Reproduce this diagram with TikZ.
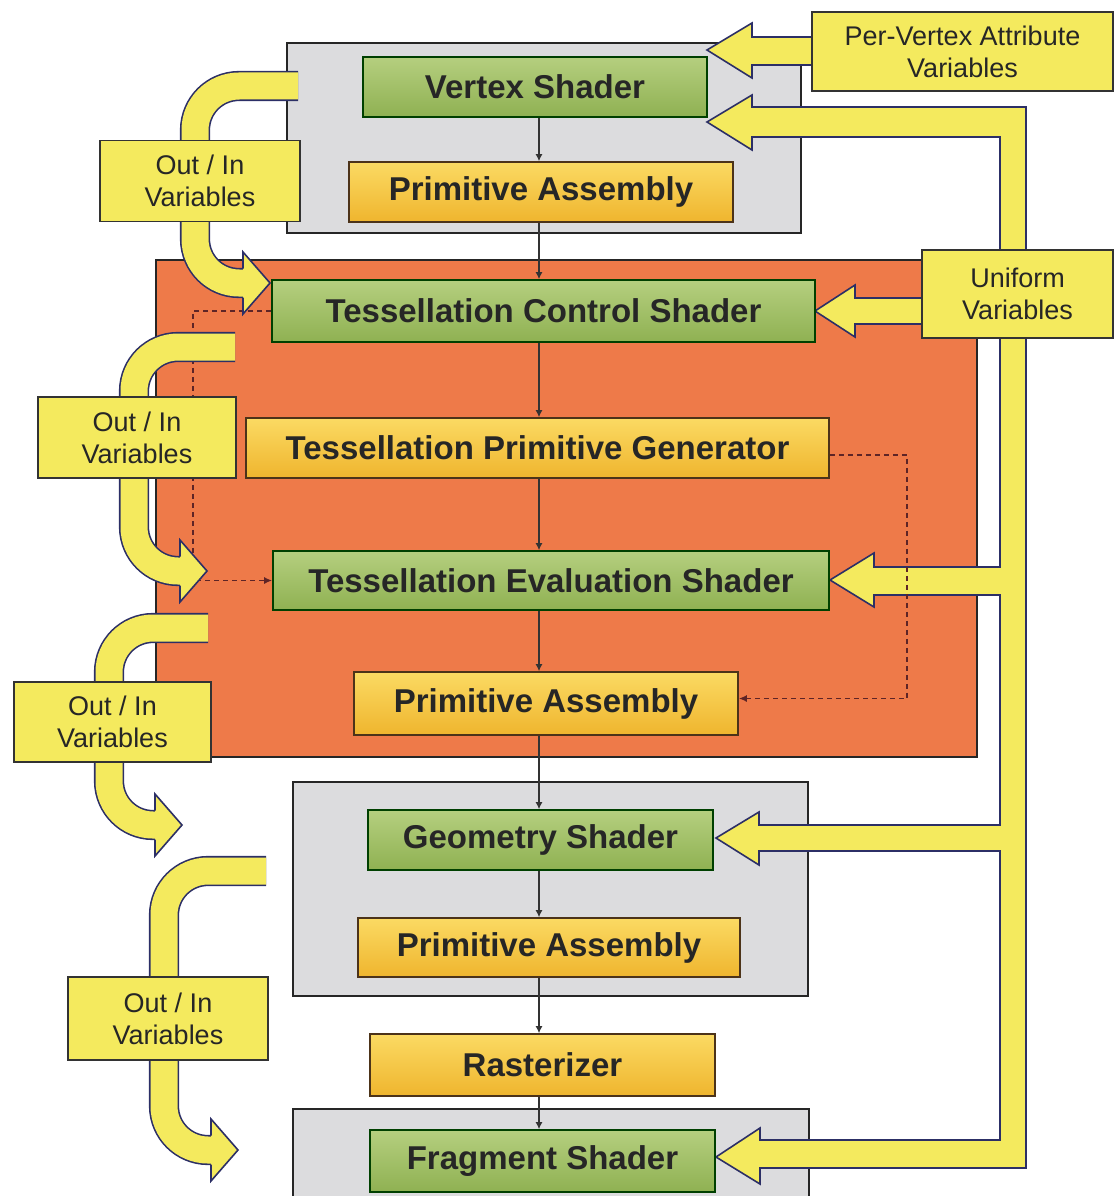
\documentclass[tikz,border=0pt]{standalone}
\usepackage{fontspec}
\setmainfont{Liberation Sans}
\usetikzlibrary{arrows.meta}

\definecolor{stagegray}{HTML}{DCDCDE}
\definecolor{tessorange}{HTML}{EE7A49}
\definecolor{greentop}{HTML}{B5CF7F}
\definecolor{greenbot}{HTML}{8FB152}
\definecolor{goldtop}{HTML}{FBDA63}
\definecolor{goldbot}{HTML}{EFB52E}
\definecolor{varyellow}{HTML}{F4EA5E}
\definecolor{arrowline}{HTML}{2C2F66}
\definecolor{ctrlred}{HTML}{5E2426}

\tikzstyle{stage}=[draw=black!85,line width=2.5pt]
\tikzstyle{shader}=[draw=green!25!black,line width=1.6pt,top color=greentop,bottom color=greenbot,
  font=\fontsize{33}{38}\selectfont\bfseries,text=black!85,inner sep=0pt]
\tikzstyle{fixed}=[draw=brown!40!black,line width=1.6pt,top color=goldtop,bottom color=goldbot,
  font=\fontsize{33}{38}\selectfont\bfseries,text=black!85,inner sep=0pt]
\tikzstyle{vars}=[draw=black!80,line width=1.6pt,fill=varyellow,align=center,
  font=\fontsize{27}{32}\selectfont,text=black!85,inner sep=0pt]
\tikzstyle{flow}=[draw=black!80,line width=1.3pt,-{Latex[length=7pt,width=7pt]}]
\tikzstyle{ctrl}=[draw=ctrlred,line width=1.7pt,dash pattern=on 5pt off 4pt,-{Latex[length=8pt,width=7pt]}]
\tikzstyle{bigarrow}=[fill=varyellow,draw=arrowline,line width=1.6pt,line join=miter]
\tikzstyle{iobus}=[draw=arrowline,line width=1.6pt,double=varyellow,double distance=27pt,rounded corners=44pt]

\begin{document}
\begin{tikzpicture}[x=1pt,y=-1pt]
	\useasboundingbox (0,0) rectangle (1116,1196);
	% stage frames
	\draw[stage,fill=stagegray] (287,43) rectangle (801,233);
	\draw[stage,fill=tessorange] (156,260) rectangle (977,757);
	\draw[stage,fill=stagegray] (293,782) rectangle (808,996);
	\draw[stage,fill=stagegray] (293,1109) rectangle (809,1215);

	% attribute and uniform feeds
	\filldraw[bigarrow] (707,50) -- (752,23) -- (752,37) -- (830,37) -- (830,65) -- (752,65) -- (752,78) -- cycle;
	\filldraw[bigarrow] (707,122) -- (752,95) -- (752,107) -- (1026,107) -- (1026,1168) -- (760,1168)
		-- (760,1184) -- (716,1157) -- (760,1128) -- (760,1140) -- (1000,1140) -- (1000,851)
		-- (759,851) -- (759,865) -- (716,838) -- (759,812) -- (759,825) -- (1000,825)
		-- (1000,595) -- (874,595) -- (874,607) -- (830,580) -- (874,553) -- (874,567)
		-- (1000,567) -- (1000,137) -- (752,137) -- (752,150) -- cycle;
	\filldraw[bigarrow] (815,311) -- (855,285) -- (855,298) -- (930,298) -- (930,324) -- (855,324) -- (855,337) -- cycle;

	\node[shader,minimum width=344pt,minimum height=60pt] (vs) at (535,87) {Vertex Shader};
	\node[fixed,minimum width=384pt,minimum height=60pt] (pa1) at (541,192) {Primitive Assembly};
	\node[shader,minimum width=543pt,minimum height=62pt] (tcs) at (543.5,311) {Tessellation Control Shader};
	\node[fixed,minimum width=583pt,minimum height=60pt] (tpg) at (537.5,448) {Tessellation Primitive Generator};
	\node[shader,minimum width=556pt,minimum height=59pt] (tes) at (551,580.5) {Tessellation Evaluation Shader};
	\node[fixed,minimum width=384pt,minimum height=63pt] (pa2) at (546,703.5) {Primitive Assembly};
	\node[shader,minimum width=345pt,minimum height=60pt] (gs) at (540.5,840) {Geometry Shader};
	\node[fixed,minimum width=382pt,minimum height=59pt] (pa3) at (549,947.5) {Primitive Assembly};
	\node[fixed,minimum width=345pt,minimum height=62pt] (ras) at (542.5,1065) {Rasterizer};
	\node[shader,minimum width=345pt,minimum height=62pt] (fs) at (542.5,1161) {Fragment Shader};

	\coordinate (spine) at (539,0);
	\coordinate (ctrlL) at (193,0);
	\coordinate (ctrlR) at (907,0);
	% pipeline order
	\foreach \source/\dest in {vs/pa1, pa1/tcs, tcs/tpg, tpg/tes, tes/pa2, pa2/gs, gs/pa3, pa3/ras, ras/fs}
		\path[flow] (\source.south -| spine) -- (\dest.north -| spine);
	\path[ctrl] (tcs.west) -- (tcs.west -| ctrlL) -- (tes.west -| ctrlL) -- (tes.west);
	\path[ctrl] ([yshift=-7pt]tpg.east) -- ([yshift=-7pt]tpg.east -| ctrlR) -- ([yshift=5pt]pa2.east -| ctrlR) -- ([yshift=5pt]pa2.east);

	% out / in hand-over between stages
	\foreach \rx/\ty/\vx/\by/\hx in {298/86/195/283/243, 235/347/134/571/180, 208/628/109/825/155, 266/871/164/1150/211}{
		\draw[iobus] (\rx,\ty) -- (\vx,\ty) -- (\vx,\by) -- (\hx,\by);
		\filldraw[bigarrow] (\hx,\by-14.5) -- (\hx,\by-31) -- (\hx+27,\by) -- (\hx,\by+31) -- (\hx,\by+14.5);
	}

	\node[vars,minimum width=200pt,minimum height=81pt] (io1) at (200,181) {Out / In\\Variables};
	\node[vars,minimum width=198pt,minimum height=81pt] (io2) at (137,437.5) {Out / In\\Variables};
	\node[vars,minimum width=197pt,minimum height=80pt] (io3) at (112.5,722) {Out / In\\Variables};
	\node[vars,minimum width=200pt,minimum height=83pt] (io4) at (168,1018.5) {Out / In\\Variables};
	\node[vars,minimum width=301pt,minimum height=79pt] (attr) at (962.5,51.5) {Per-Vertex Attribute\\Variables};
	\node[vars,minimum width=191pt,minimum height=88pt] (unif) at (1017.5,294) {Uniform\\Variables};
\end{tikzpicture}
\end{document}
